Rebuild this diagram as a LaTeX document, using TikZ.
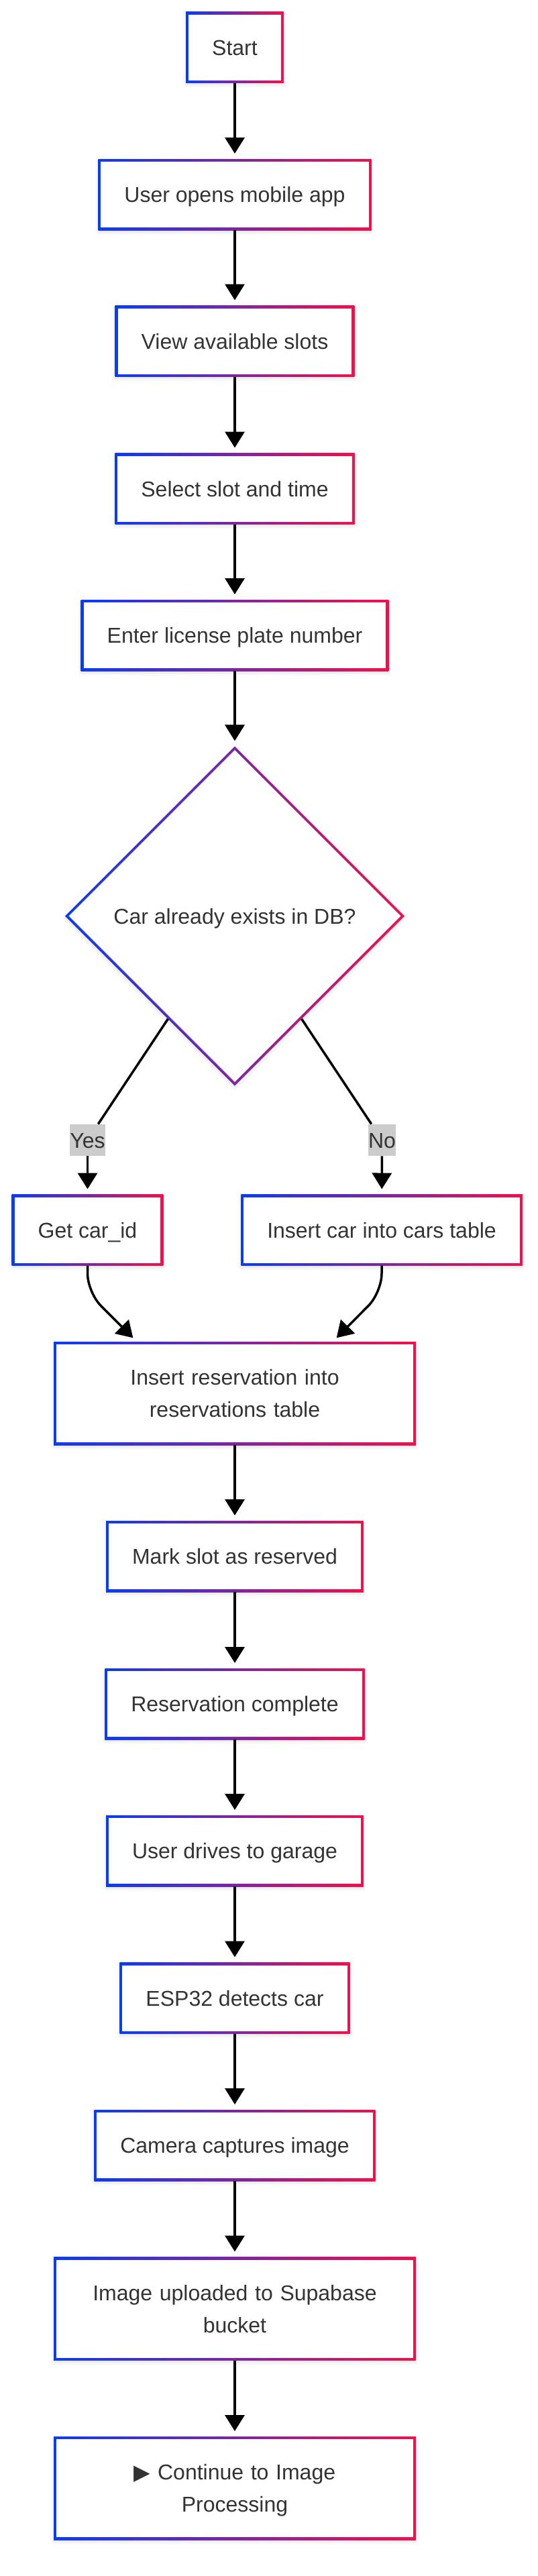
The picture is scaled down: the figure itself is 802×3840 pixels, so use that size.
\documentclass[tikz,border=0pt]{standalone}
\usepackage{fontspec}
\setmainfont{Liberation Sans}
\newfontfamily\symbolfont{DejaVu Sans}
\usepackage{xcolor}
\usepackage{tikz}
\usetikzlibrary{shapes,shapes.geometric,arrows.meta,positioning,shadows.blur}
\definecolor{edgeblue}{HTML}{0A3CF2}
\definecolor{edgered}{HTML}{F2104C}
\definecolor{textgray}{HTML}{333333}
\definecolor{lblgray}{HTML}{CCCCCC}
\newcommand{\boxfont}{\fontsize{16pt}{24pt}\selectfont}

\begin{document}
\begin{tikzpicture}[
  x=0.5pt,
  y=-0.5pt,
  boxbase/.style={rectangle, fill=white, outer sep=0pt, inner xsep=19.5pt, inner ysep=0pt,
    text=textgray, font=\boxfont, text depth=0pt,
    blur shadow={shadow xshift=0pt, shadow yshift=-1.5pt, shadow blur radius=2.5pt, shadow opacity=12},
    path picture={
      \shade[left color=edgeblue, right color=edgered]
        (path picture bounding box.south west) rectangle (path picture bounding box.north east);
      \fill[white] ([shift={(2pt,2pt)}]path picture bounding box.south west)
        rectangle ([shift={(-2pt,-2pt)}]path picture bounding box.north east);
    }},
  stepbox/.style={boxbase, minimum height=53pt, text height=11.5pt},
  widebox/.style={boxbase, minimum height=77pt, text width=231pt, align=center, text depth=24pt},
  decbox/.style={diamond, aspect=1, fill=white, outer sep=0pt, inner sep=0pt,
    minimum width=253pt, minimum height=253pt, text=textgray, font=\boxfont,
    text height=11.5pt, text depth=0pt,
    blur shadow={shadow xshift=0pt, shadow yshift=-1.5pt, shadow blur radius=2.5pt, shadow opacity=12},
    path picture={
      \shade[left color=edgeblue, right color=edgered]
        (path picture bounding box.south west) rectangle (path picture bounding box.north east);
      \fill[white] ([yshift=-2.8pt]path picture bounding box.north)
        -- ([xshift=-2.8pt]path picture bounding box.east)
        -- ([yshift=2.8pt]path picture bounding box.south)
        -- ([xshift=2.8pt]path picture bounding box.west) -- cycle;
    }},
  lblbox/.style={fill=lblgray, inner sep=0pt, minimum height=23.5pt, text=textgray,
    font=\boxfont, text height=11.5pt, text depth=0pt},
  plain/.style={line width=1.75pt},
  flow/.style={-{Triangle[length=12pt, width=14.5pt]}, line width=1.75pt, shorten >=4pt}
]
\useasboundingbox (0,0) rectangle (802,3840);

\node[stepbox] (start) at (350,70.5) {Start};
\node[stepbox] (openapp) at (350,290) {User opens mobile app};
\node[stepbox] (viewslots) at (350,508.5) {View available slots};
\node[stepbox] (selslot) at (350,728.5) {Select slot and time};
\node[stepbox] (plate) at (350,947) {Enter license plate number};
\node[decbox] (exists) at (350,1365.5) {Car already exists in DB?};
\node[lblbox] (yes) at (130.5,1699.5) {Yes};
\node[lblbox] (no) at (569.5,1699.5) {No};
\node[stepbox] (getid) at (130.5,1833.5) {Get car\_id};
\node[stepbox] (inscar) at (569,1833.5) {Insert car into cars table};
\node[widebox] (insres) at (350,2077) {Insert reservation into\\reservations table};
\node[stepbox] (markslot) at (350,2320) {Mark slot as reserved};
\node[stepbox] (rescomplete) at (350,2540) {Reservation complete};
\node[stepbox] (drive) at (350,2759) {User drives to garage};
\node[stepbox] (espdetect) at (350,2978.5) {ESP32 detects car};
\node[stepbox] (capture) at (350,3198) {Camera captures image};
\node[widebox] (upload) at (350,3441.5) {Image uploaded to Supabase\\bucket};
\node[widebox] (cont) at (350,3709) {{\symbolfont ▶} Continue to Image\\Processing};

\coordinate (resleft) at ([xshift=-73pt]insres.north);
\coordinate (resright) at ([xshift=73pt]insres.north);

\draw[flow] (start) -- (openapp);
\draw[flow] (openapp) -- (viewslots);
\draw[flow] (viewslots) -- (selslot);
\draw[flow] (selslot) -- (plate);
\draw[flow] (plate) -- (exists);
\draw[plain] (exists.237) -- (yes);
\draw[flow] (yes) -- (getid);
\draw[plain] (exists.303) -- (no);
\draw[flow] (no) -- (inscar);
\draw[flow, rounded corners=14pt] (getid.south) -- ++(0,-20pt) -- (resleft);
\draw[flow, rounded corners=14pt] (inscar.south) -- ++(0,-20pt) -- (resright);
\draw[flow] (insres) -- (markslot);
\draw[flow] (markslot) -- (rescomplete);
\draw[flow] (rescomplete) -- (drive);
\draw[flow] (drive) -- (espdetect);
\draw[flow] (espdetect) -- (capture);
\draw[flow] (capture) -- (upload);
\draw[flow] (upload) -- (cont);
\end{tikzpicture}
\end{document}
